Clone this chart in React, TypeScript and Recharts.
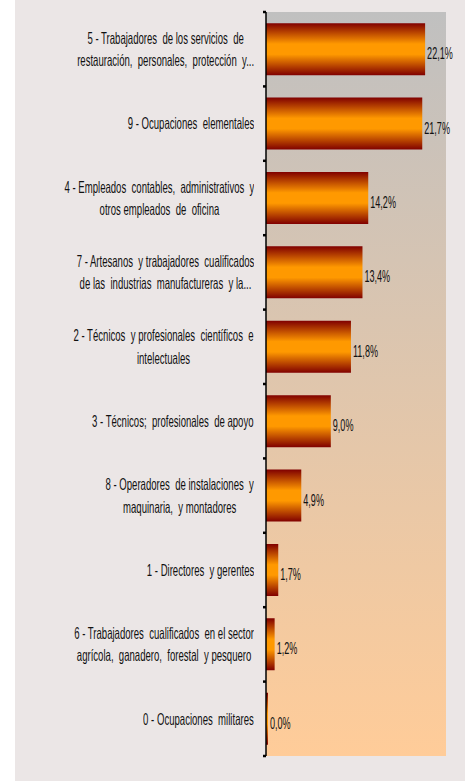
import React from 'react';
import { BarChart, Bar, XAxis, YAxis, CartesianGrid, LabelList } from 'recharts';

const categories: string[] = [
  '5 - Trabajadores  de los servicios  de\nrestauración,  personales,  protección  y...',
  '9 - Ocupaciones  elementales',
  '4 - Empleados  contables,  administrativos  y\notros empleados  de  oficina',
  '7 - Artesanos  y trabajadores  cualificados\nde las  industrias  manufactureras  y la...',
  '2 - Técnicos  y profesionales  científicos  e\nintelectuales',
  '3 - Técnicos;  profesionales  de apoyo',
  '8 - Operadores  de instalaciones  y\nmaquinaria,  y montadores',
  '1 - Directores  y gerentes',
  '6 - Trabajadores  cualificados  en el sector\nagrícola,  ganadero,  forestal  y pesquero',
  '0 - Ocupaciones  militares',
];
const values: number[] = [22.1, 21.7, 14.2, 13.4, 11.8, 9.0, 4.9, 1.7, 1.2, 0.0];
const xDomain: [number, number] = [0, 25];

const data = categories.map((name, i) => ({ name, value: values[i] }));

const fmt = (v: number) => v.toFixed(1).replace('.', ',') + '%';

const FONT = '"Liberation Sans", Arial, sans-serif';

// tickSize + tickMargin of the category axis (label x sits this far left of the axis line)
const TICK_SIZE = 6;
const TICK_MARGIN = 2;
const MARK = 3;

const CatTick = (props: any) => {
  const { x, y, payload, height, visibleTicksCount, index } = props;
  const lines = String(payload.value).split('\n');
  const w = 300;
  const h = 80;
  const axisX = x + TICK_SIZE + TICK_MARGIN;
  const band = height / visibleTicksCount;
  return (
    <g>
      <rect x={axisX - MARK} y={y - band / 2 - 1.25} width={MARK} height={2.5} fill="#000" />
      {index === visibleTicksCount - 1 && (
        <rect x={axisX - MARK} y={y + band / 2 - 1.25} width={MARK} height={2.5} fill="#000" />
      )}
      <foreignObject x={x - 4 - w} y={y - h / 2} width={w} height={h}>
        <div
          style={{
            width: w,
            height: h,
            display: 'flex',
            alignItems: 'center',
            justifyContent: 'flex-end',
          }}
        >
          <div
            style={{
              transform: 'scaleX(0.58)',
              transformOrigin: 'right center',
              textAlign: 'center',
              whiteSpace: 'pre',
              fontFamily: FONT,
              fontSize: 16.5,
              lineHeight: '22.5px',
              color: '#111',
            }}
          >
            {lines.map((l, i) => (
              <div key={i}>{l}</div>
            ))}
          </div>
        </div>
      </foreignObject>
    </g>
  );
};

const ValueLabel = (props: any) => {
  const { x, y, width, height, value } = props;
  return (
    <text
      transform={`translate(${x + width + 2},${y + height / 2 + 10}) scale(0.55,1)`}
      fontFamily={FONT}
      fontSize={16.5}
      fill="#111"
    >
      {fmt(Number(value))}
    </text>
  );
};

export default function App() {
  return (
    <div
      style={{
        position: 'absolute',
        left: 15,
        top: 0,
        width: 450,
        height: 781,
        background: '#ebe6e6',
      }}
    >
      <BarChart
        width={450}
        height={781}
        data={data}
        layout="vertical"
        margin={{ top: 12, right: 19, bottom: 25, left: 0 }}
        barCategoryGap="15%"
      >
        <defs>
          <linearGradient id="plotBg" x1="0" y1="0" x2="0" y2="1">
            <stop offset="0%" stopColor="#c0c0c0" />
            <stop offset="100%" stopColor="#ffcc99" />
          </linearGradient>
          <linearGradient id="barGrad" x1="0" y1="0" x2="0" y2="1">
            <stop offset="0%" stopColor="#800000" />
            <stop offset="40%" stopColor="#ff9900" />
            <stop offset="60%" stopColor="#ff9900" />
            <stop offset="100%" stopColor="#800000" />
          </linearGradient>
        </defs>
        <CartesianGrid
          horizontal={false}
          vertical={false}
          fill="url(#plotBg)"
          fillOpacity={1}
          stroke="none"
        />
        <XAxis type="number" domain={xDomain} hide />
        <YAxis
          type="category"
          dataKey="name"
          width={251}
          tick={<CatTick />}
          tickLine={false}
          tickSize={TICK_SIZE}
          tickMargin={TICK_MARGIN}
          axisLine={{ stroke: '#000', strokeWidth: 1.5 }}
          interval={0}
        />
        <Bar
          dataKey="value"
          fill="url(#barGrad)"
          minPointSize={2}
          isAnimationActive={false}
        >
          <LabelList dataKey="value" content={<ValueLabel />} />
        </Bar>
      </BarChart>
    </div>
  );
}
